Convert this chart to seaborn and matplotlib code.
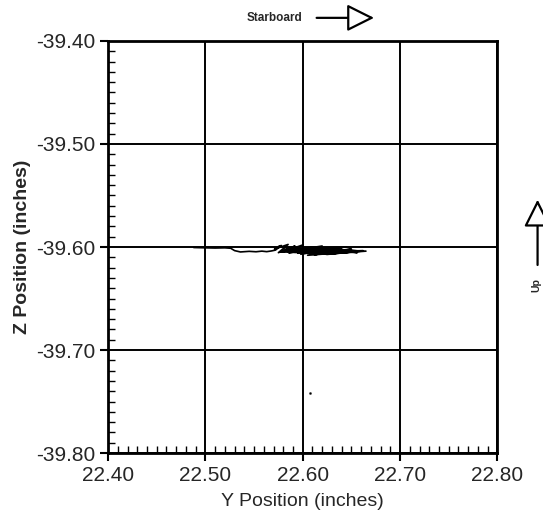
import numpy as np
import pandas as pd
import matplotlib
matplotlib.use("Agg")
import matplotlib.pyplot as plt
import seaborn as sns
from matplotlib.ticker import MultipleLocator

# === Dados (posicao Y x posicao Z, em polegadas) ===
trace_y = [22.488, 22.500, 22.510, 22.520, 22.526, 22.530, 22.536, 22.545, 22.552,
           22.558, 22.563, 22.568, 22.572, 22.578, 22.571, 22.585, 22.575, 22.592,
           22.580, 22.600, 22.586, 22.610, 22.590, 22.620, 22.598, 22.632, 22.605,
           22.640, 22.612, 22.650, 22.620, 22.662, 22.630, 22.665, 22.640, 22.656,
           22.600, 22.645, 22.585, 22.630, 22.575, 22.615, 22.595, 22.650, 22.610,
           22.660, 22.625, 22.590, 22.640, 22.580, 22.620, 22.600, 22.655, 22.605,
           22.640, 22.578, 22.630]
trace_z = [-39.6005, -39.6008, -39.6010, -39.6008, -39.6012, -39.6035, -39.6048, -39.6042, -39.6046,
           -39.6040, -39.6045, -39.6038, -39.6030, -39.5985, -39.6020, -39.5975, -39.6055, -39.5990,
           -39.6045, -39.5980, -39.6060, -39.6000, -39.6035, -39.5990, -39.6070, -39.6010, -39.6045,
           -39.6030, -39.6075, -39.6020, -39.6050, -39.6035, -39.6065, -39.6040, -39.6030, -39.6055,
           -39.6020, -39.6000, -39.6050, -39.6068, -39.5995, -39.6045, -39.6060, -39.6050, -39.6005,
           -39.6040, -39.6072, -39.6015, -39.6058, -39.6035, -39.6025, -39.6062, -39.6045, -39.6080,
           -39.6010, -39.6050, -39.6040]
dot_y = [22.607]
dot_z = [-39.742]

x_ticks = [22.40, 22.50, 22.60, 22.70, 22.80]
z_ticks = [-39.80, -39.70, -39.60, -39.50, -39.40]

df_trace = pd.DataFrame({"y": trace_y, "z": trace_z})
df_dot = pd.DataFrame({"y": dot_y, "z": dot_z})

# === Plot ===
sns.set_style("white")
plt.rcParams["font.family"] = ["Liberation Sans", "DejaVu Sans"]

fig = plt.figure(figsize=(5.43, 5.25), dpi=100)
ax = fig.add_axes([0.199, 0.137, 0.717, 0.785])

sns.lineplot(data=df_trace, x="y", y="z", sort=False, estimator=None,
             color="black", linewidth=1.2, ax=ax)
sns.scatterplot(data=df_dot, x="y", y="z", color="black", s=4, ax=ax)

ax.set_xlim(22.40, 22.80)
ax.set_ylim(-39.80, -39.40)
ax.set_xticks(x_ticks)
ax.set_yticks(z_ticks)
ax.set_xticklabels([f"{v:.2f}" for v in x_ticks], fontsize=15)
ax.set_yticklabels([f"{v:.2f}" for v in z_ticks], fontsize=15)
ax.xaxis.set_minor_locator(MultipleLocator(0.01))
ax.yaxis.set_minor_locator(MultipleLocator(0.01))
ax.tick_params(which="major", direction="out", length=6, width=1.5, color="black", pad=3)
ax.tick_params(which="minor", direction="in", length=5, width=1.0, color="black")
ax.tick_params(axis="x", which="both", bottom=True, top=False)
ax.tick_params(axis="y", which="both", left=True, right=False)

ax.grid(True, which="major", color="black", linewidth=1.4)
for s in ax.spines.values():
    s.set_color("black")
    s.set_linewidth(2.0)

ax.set_xlabel("Y Position (inches)", fontsize=14, labelpad=6)
ax.set_ylabel("Z Position (inches)", fontsize=14, fontweight="bold")

# Setas de orientacao
fig.text(0.506, 0.966, "Starboard", fontsize=8.5, fontweight="bold", ha="center", va="center")
fig.patches.append(matplotlib.patches.FancyArrowPatch(
    (0.578, 0.966), (0.694, 0.966), transform=fig.transFigure,
    arrowstyle="-|>,head_length=1.4,head_width=0.7", mutation_scale=12,
    fc="white", ec="black", linewidth=1.6))
fig.patches.append(matplotlib.patches.FancyArrowPatch(
    (0.99, 0.49), (0.99, 0.625), transform=fig.transFigure,
    arrowstyle="-|>,head_length=1.4,head_width=0.7", mutation_scale=12,
    fc="white", ec="black", linewidth=1.6))
fig.text(0.988, 0.457, "Up", fontsize=7.5, fontweight="bold", rotation=90,
         ha="center", va="center")

fig.savefig("out.png", dpi=100)
